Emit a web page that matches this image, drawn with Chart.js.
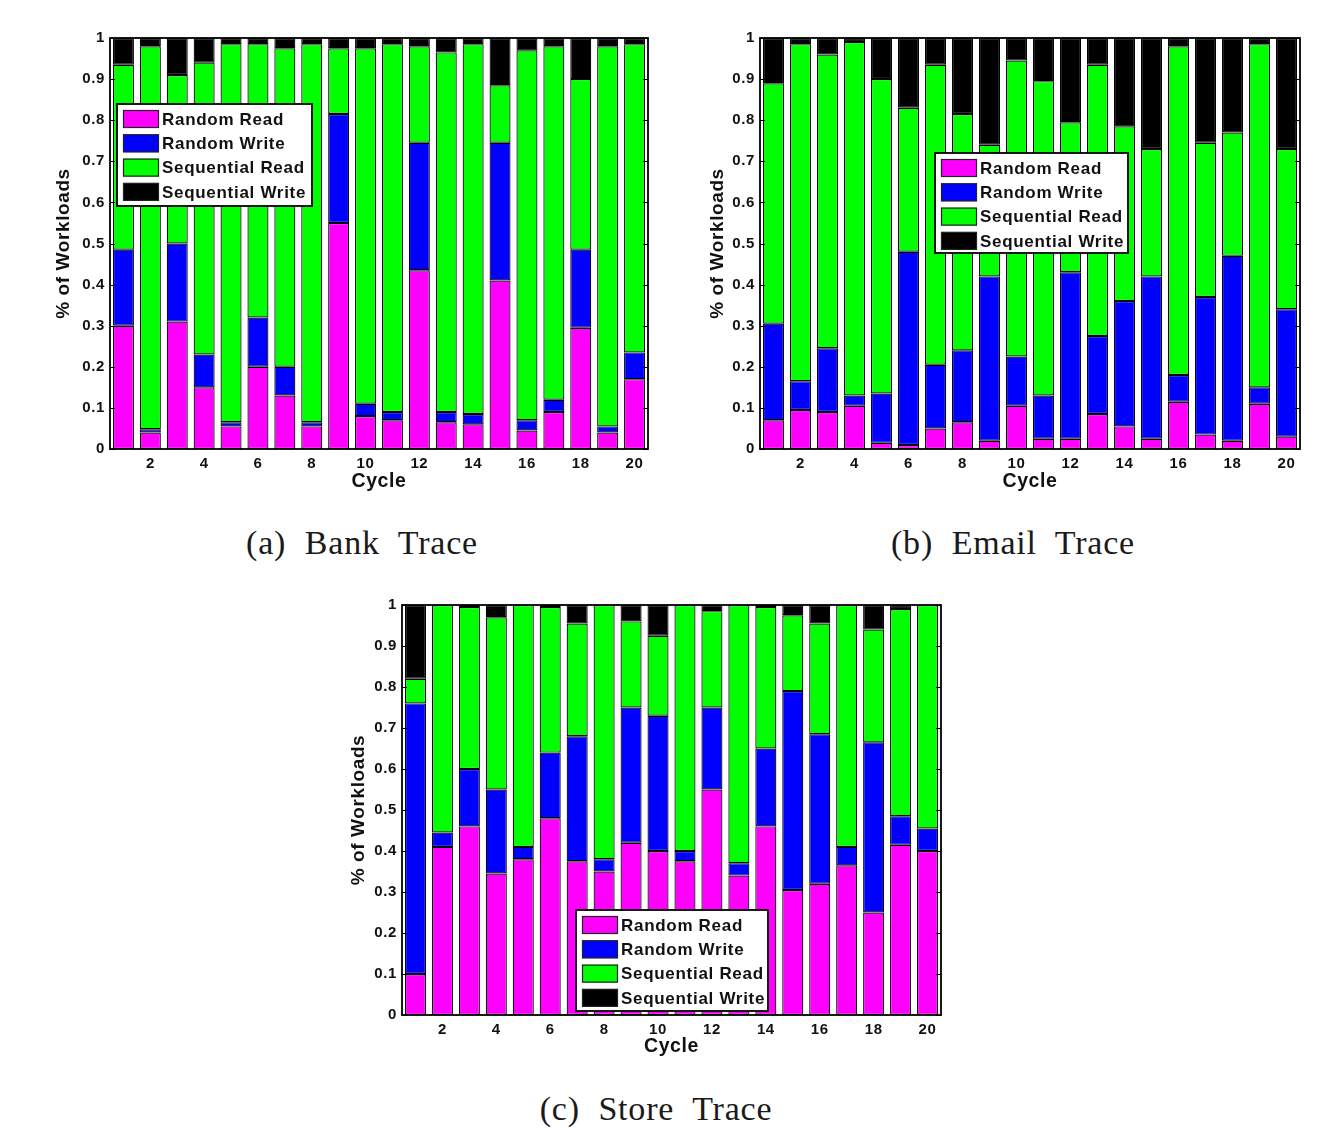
<!DOCTYPE html>
<html>
<head>
<meta charset="utf-8">
<script src="https://cdn.jsdelivr.net/npm/chart.js@4/dist/chart.umd.min.js"></script>
<style>
  html, body { margin: 0; padding: 0; background: #fff; }
  body { width: 1323px; height: 1128px; position: relative; overflow: hidden; }
  .panel { position: absolute; }
  .cap {
    position: absolute; transform: translateX(-50%);
    font-family: "Liberation Serif", "DejaVu Serif", serif; font-size: 34px;
    color: #1a1a1a; white-space: nowrap; letter-spacing: 0.8px;
  }
</style>
</head>
<body>
<div class="panel" style="left:0;top:0;"><canvas id="bank" width="660" height="500"></canvas></div>
<div class="panel" style="left:660px;top:0;"><canvas id="email" width="663" height="500"></canvas></div>
<div class="panel" style="left:290px;top:565px;"><canvas id="store" width="663" height="500"></canvas></div>
<div class="cap" style="left:362px;top:524px;">(a)&nbsp; Bank&nbsp; Trace</div>
<div class="cap" style="left:1013px;top:524px;">(b)&nbsp; Email&nbsp; Trace</div>
<div class="cap" style="left:656px;top:1090px;">(c)&nbsp; Store&nbsp; Trace</div>

<script>
// Cycles on the x axis (only even ones are labelled)
const cycles = [1,2,3,4,5,6,7,8,9,10,11,12,13,14,15,16,17,18,19,20];
const yTickLabels = ['0','0.1','0.2','0.3','0.4','0.5','0.6','0.7','0.8','0.9','1'];
const seriesNames = ['Random Read', 'Random Write', 'Sequential Read', 'Sequential Write'];
const seriesColors = ['#ff00ff', '#0000ff', '#00ff00', '#000000'];

// (a) Bank trace — share of workloads per cycle
const bankRandomRead      = [0.30,0.04,0.31,0.15,0.055,0.20,0.13,0.055,0.55,0.08,0.07,0.435,0.065,0.06,0.41,0.045,0.09,0.295,0.04,0.17];
const bankRandomWrite     = [0.185,0.008,0.19,0.08,0.01,0.12,0.07,0.01,0.265,0.03,0.02,0.31,0.025,0.025,0.335,0.025,0.03,0.19,0.015,0.065];
const bankSequentialRead  = [0.45,0.932,0.41,0.71,0.92,0.665,0.775,0.92,0.16,0.865,0.895,0.235,0.875,0.90,0.14,0.90,0.86,0.415,0.925,0.75];
const bankSequentialWrite = [0.065,0.02,0.09,0.06,0.015,0.015,0.025,0.015,0.025,0.025,0.015,0.02,0.035,0.015,0.115,0.03,0.02,0.10,0.02,0.015];

// (b) Email trace
const emailRandomRead      = [0.07,0.095,0.09,0.105,0.015,0.01,0.05,0.065,0.02,0.105,0.025,0.025,0.085,0.055,0.025,0.115,0.035,0.02,0.11,0.03];
const emailRandomWrite     = [0.235,0.07,0.155,0.025,0.12,0.47,0.155,0.175,0.40,0.12,0.105,0.405,0.19,0.305,0.395,0.065,0.335,0.45,0.04,0.31];
const emailSequentialRead  = [0.585,0.82,0.715,0.86,0.765,0.35,0.73,0.575,0.32,0.72,0.765,0.365,0.66,0.425,0.31,0.80,0.375,0.30,0.835,0.39];
const emailSequentialWrite = [0.11,0.015,0.04,0.01,0.10,0.17,0.065,0.185,0.26,0.055,0.105,0.205,0.065,0.215,0.27,0.02,0.255,0.23,0.015,0.27];

// (c) Store trace
const storeRandomRead      = [0.10,0.41,0.46,0.345,0.38,0.48,0.375,0.35,0.42,0.40,0.375,0.55,0.34,0.46,0.305,0.32,0.365,0.25,0.415,0.40];
const storeRandomWrite     = [0.66,0.035,0.14,0.205,0.03,0.16,0.305,0.03,0.33,0.33,0.025,0.20,0.03,0.19,0.485,0.365,0.045,0.415,0.07,0.055];
const storeSequentialRead  = [0.06,0.555,0.395,0.42,0.59,0.355,0.275,0.62,0.21,0.195,0.60,0.235,0.63,0.345,0.185,0.27,0.59,0.275,0.505,0.545];
const storeSequentialWrite = [0.18,0,0.005,0.03,0,0.005,0.045,0,0.04,0.075,0,0.015,0,0.005,0.025,0.045,0,0.06,0.01,0];

const FONT = '"Liberation Sans", Arial, sans-serif';

// Slightly spaced-out lettering for all axis text
const spacingPlugin = {
  id: 'spacing',
  beforeLayout(chart) { chart.ctx.letterSpacing = '0.6px'; },
  beforeDraw(chart) { chart.ctx.letterSpacing = '0.6px'; }
};

// Box around the plot area plus MATLAB-style inward ticks on the y axis
const framePlugin = {
  id: 'frame',
  afterDraw(chart) {
    const { ctx, chartArea: a, scales } = chart;
    ctx.save();
    ctx.strokeStyle = '#000';
    ctx.lineWidth = 1;
    const y = scales.y;
    y.ticks.forEach(t => {
      const py = Math.round(y.getPixelForValue(t.value)) + 0.5;
      ctx.beginPath();
      ctx.moveTo(a.left, py); ctx.lineTo(a.left + 5, py);
      ctx.moveTo(a.right, py); ctx.lineTo(a.right - 5, py);
      ctx.stroke();
    });
    ctx.lineWidth = 1.8;
    ctx.strokeRect(a.left, a.top, a.right - a.left, a.bottom - a.top);
    ctx.restore();
  }
};

// Boxed legend placed inside the plot area
const boxLegendPlugin = {
  id: 'boxLegend',
  afterDatasetsDraw(chart, args, opts) {
    const { ctx, chartArea: a } = chart;
    const x0 = a.left + opts.dx, y0 = a.top + opts.dy, w = opts.w, h = opts.h;
    ctx.save();
    ctx.fillStyle = '#fff';
    ctx.fillRect(x0, y0, w, h);
    ctx.strokeStyle = '#000';
    ctx.lineWidth = 1.8;
    ctx.strokeRect(x0, y0, w, h);
    ctx.font = 'bold 17px ' + FONT;
    ctx.letterSpacing = '0.7px';
    ctx.textBaseline = 'middle';
    chart.data.datasets.forEach((ds, i) => {
      const cy = y0 + 15 + i * 24.3;
      ctx.fillStyle = ds.backgroundColor;
      ctx.fillRect(x0 + 6, cy - 9, 36, 18);
      ctx.lineWidth = 1.2;
      ctx.strokeStyle = '#222';
      ctx.strokeRect(x0 + 6.5, cy - 8.5, 35, 17);
      ctx.fillStyle = '#111';
      ctx.fillText(ds.label, x0 + 45, cy + 1);
    });
    ctx.restore();
  }
};

function makeChart(id, values, geo) {
  const datasets = values.map((v, i) => ({
    label: seriesNames[i],
    data: v,
    backgroundColor: seriesColors[i],
    borderColor: '#000',
    borderWidth: 1.2,
    borderSkipped: false,
    barPercentage: 0.78,
    categoryPercentage: 1.0
  }));
  return new Chart(document.getElementById(id), {
    type: 'bar',
    data: { labels: cycles.map(String), datasets },
    plugins: [spacingPlugin, framePlugin, boxLegendPlugin],
    options: {
      responsive: false,
      animation: false,
      layout: { padding: { top: geo.padTop, right: geo.padRight, left: 0, bottom: 0 } },
      plugins: {
        legend: { display: false },
        tooltip: { enabled: false },
        boxLegend: geo.legend
      },
      scales: {
        x: {
          stacked: true,
          grid: { display: false, drawTicks: false },
          border: { display: false },
          afterFit: s => { s.height = geo.xHeight; },
          ticks: {
            autoSkip: false, maxRotation: 0, padding: 6,
            color: '#111', font: { family: FONT, size: 15, weight: 'bold' },
            callback: (v, i) => (cycles[i] % 2 === 0 ? String(cycles[i]) : '')
          },
          title: {
            display: true, text: 'Cycle', color: '#111',
            font: { family: FONT, size: 19.5, weight: 'bold' },
            padding: { top: 0, bottom: 7 }
          }
        },
        y: {
          stacked: true, min: 0, max: 1,
          grid: { display: false, drawTicks: false },
          border: { display: false },
          afterFit: s => { s.width = geo.yWidth; },
          ticks: {
            stepSize: 0.1, padding: 5,
            color: '#111', font: { family: FONT, size: 15, weight: 'bold' },
            callback: (v, i) => yTickLabels[i]
          },
          title: {
            display: true, text: '% of Workloads', color: '#111',
            font: { family: FONT, size: 19, weight: 'bold' },
            padding: { top: geo.yTitleX - 11, bottom: 0 }
          }
        }
      }
    }
  });
}

makeChart('bank',
  [bankRandomRead, bankRandomWrite, bankSequentialRead, bankSequentialWrite],
  { padTop: 38, padRight: 12, xHeight: 51, yWidth: 110, yTitleX: 63,
    legend: { dx: 7, dy: 66, w: 195, h: 102 } });

makeChart('email',
  [emailRandomRead, emailRandomWrite, emailSequentialRead, emailSequentialWrite],
  { padTop: 38, padRight: 23, xHeight: 51, yWidth: 100, yTitleX: 57,
    legend: { dx: 175, dy: 115, w: 193, h: 100 } });

makeChart('store',
  [storeRandomRead, storeRandomWrite, storeSequentialRead, storeSequentialWrite],
  { padTop: 40, padRight: 12, xHeight: 50, yWidth: 112, yTitleX: 68,
    legend: { dx: 174, dy: 305, w: 192, h: 101 } });
</script>
</body>
</html>
